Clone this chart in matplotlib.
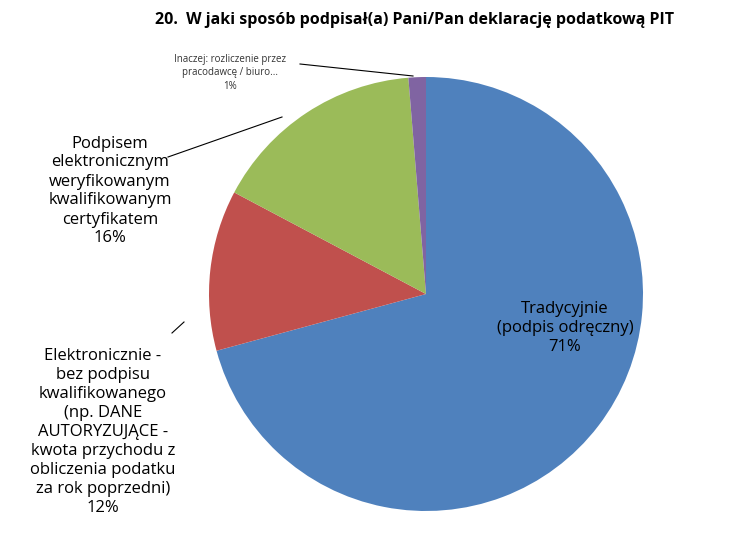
import matplotlib
matplotlib.use("Agg")
import matplotlib.pyplot as plt

title = "20.  W jaki sposób podpisał(a) Pani/Pan deklarację podatkową PIT"
labels = ["Tradycyjnie\n(podpis odręczny)\n71%",
          "Elektronicznie -\nbez podpisu\nkwalifikowanego\n(np. DANE\nAUTORYZUJĄCE -\nkwota przychodu z\nobliczenia podatku\nza rok poprzedni)\n12%",
          "Podpisem\nelektronicznym\nweryfikowanym\nkwalifikowanym\ncertyfikatem\n16%",
          "Inaczej: rozliczenie przez\npracodawcę / biuro...\n1%"]
values = [71, 12, 16, 1.3]
colors = ["#4F81BD", "#C0504D", "#9BBB59", "#8064A2"]

plt.rcParams['font.family'] = ['Open Sans', 'DejaVu Sans']
W, H = 735, 550
fig = plt.figure(figsize=(W/100, H/100), dpi=100)
cx, cy, r = 426, 294, 217
ax = fig.add_axes([(cx-r)/W, (H-cy-r)/H, 2*r/W, 2*r/H])
ax.pie(values, colors=colors, startangle=90, counterclock=False, radius=1)
ax.set_xlim(-1, 1); ax.set_ylim(-1, 1)
ax.set_aspect('equal'); ax.axis('off')

ov = fig.add_axes([0, 0, 1, 1], zorder=5)
ov.set_xlim(0, W); ov.set_ylim(H, 0); ov.axis('off')
ov.text(415, 20, title, ha='center', va='center', fontsize=11.5, fontweight='bold')
ov.text(565, 328, labels[0], ha='center', va='center', fontsize=12, linespacing=1.25)
ov.text(103, 432, labels[1], ha='center', va='center', fontsize=12, linespacing=1.25)
ov.text(110, 191, labels[2], ha='center', va='center', fontsize=12, linespacing=1.25)
ov.text(230, 73, labels[3], ha='center', va='center', fontsize=7, linespacing=1.3, color='#333333')
ov.plot([168, 282], [157, 117], color='black', lw=0.8)
ov.plot([172, 184], [333, 322], color='black', lw=0.8)
ov.plot([300, 413], [64, 76], color='black', lw=0.8)
fig.savefig("out.png", dpi=100)
